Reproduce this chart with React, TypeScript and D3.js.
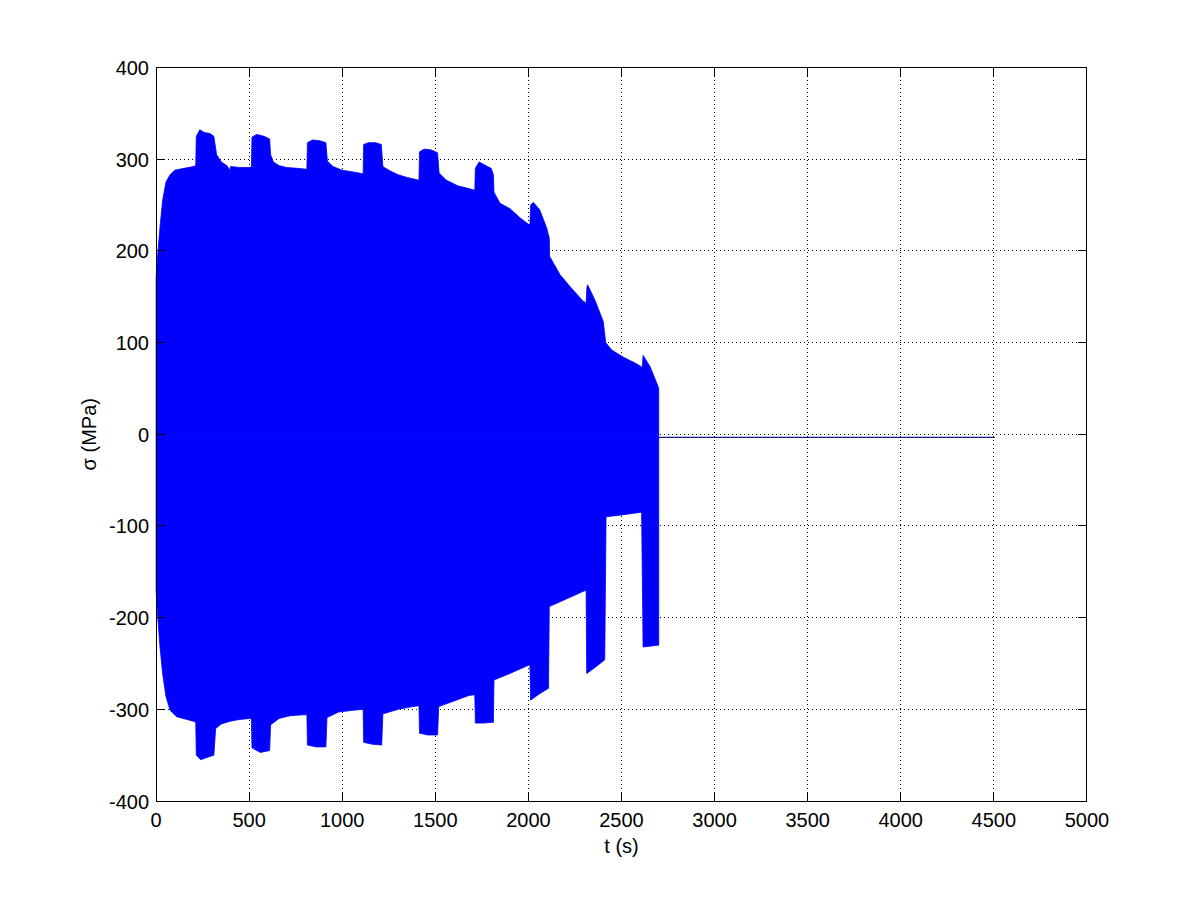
import React from "react";
import * as d3 from "d3";

// Upper envelope of the stress signal (t in s, sigma in MPa)
const upperT = [0, 6, 21, 35, 53, 75, 100, 150, 200, 213, 216, 235, 260, 290, 310, 325, 350, 380, 397, 400, 450, 505, 512, 515, 540, 580, 610, 615, 630, 660, 700, 760, 810, 813, 840, 880, 912, 920, 950, 1000, 1060, 1112, 1115, 1140, 1180, 1210, 1218, 1250, 1300, 1350, 1412, 1415, 1440, 1480, 1512, 1520, 1560, 1620, 1680, 1712, 1715, 1735, 1780, 1800, 1812, 1815, 1847, 1901, 1955, 2000, 2008, 2012, 2026, 2060, 2098, 2112, 2114, 2170, 2224, 2290, 2310, 2314, 2318, 2358, 2402, 2415, 2447, 2510, 2570, 2612, 2616, 2653, 2689, 2700];
const upperV = [170, 190, 226, 255, 275, 283, 288, 290, 292, 293, 325, 332, 329, 328, 325, 305, 297, 293, 288, 292, 291, 291, 292, 324, 327, 325, 322, 305, 297, 293, 291, 290, 289, 318, 321, 320, 318, 298, 292, 288, 286, 284, 316, 318, 318, 316, 292, 288, 283, 280, 277, 308, 311, 310, 307, 285, 277, 271, 268, 266, 290, 297, 292, 290, 283, 264, 252, 246, 236, 229, 229, 250, 253, 245, 225, 214, 194, 174, 161, 146, 143, 160, 163, 146, 123, 100, 92, 84, 78, 73, 86, 74, 56, 50];

// Lower envelope
const lowerT = [0, 6, 21, 35, 53, 75, 110, 200, 213, 216, 240, 280, 310, 320, 350, 397, 450, 505, 512, 515, 560, 610, 615, 660, 720, 790, 810, 813, 860, 912, 918, 980, 1060, 1112, 1115, 1160, 1212, 1218, 1300, 1380, 1412, 1415, 1460, 1512, 1518, 1600, 1680, 1712, 1715, 1760, 1812, 1815, 1900, 2000, 2008, 2012, 2060, 2108, 2112, 2200, 2310, 2313, 2360, 2410, 2417, 2500, 2608, 2616, 2700];
const lowerV = [-170, -192, -232, -261, -286, -301, -308, -313, -314, -350, -355, -352, -350, -321, -316, -313, -311, -310, -311, -342, -347, -345, -317, -310, -307, -306, -306, -339, -341, -341, -309, -303, -301, -300, -336, -338, -339, -305, -300, -297, -296, -326, -328, -328, -297, -291, -285, -284, -315, -315, -314, -268, -261, -252, -252, -290, -283, -277, -188, -180, -170, -261, -254, -246, -90, -88, -85, -232, -230];

// Residual flat line after failure
const tailT = [2700, 4506];
const tailV = [-3.3, -3.3];

const xTicks = [0, 500, 1000, 1500, 2000, 2500, 3000, 3500, 4000, 4500, 5000];
const yTicks = [-400, -300, -200, -100, 0, 100, 200, 300, 400];

export default function App() {
  const W = 1201;
  const H = 900;
  const left = 156.1;
  const right = 156.1 + 930.8;
  const top = 67.5;
  const bottom = 801;
  const x = d3.scaleLinear().domain([0, 5000]).range([left, right]);
  const y = d3.scaleLinear().domain([-400, 400]).range([bottom, top]);

  const up = upperT.map((t, i) => [t, upperV[i]] as [number, number]);
  const lo = lowerT.map((t, i) => [t, lowerV[i]] as [number, number]);
  const tail = tailT.map((t, i) => [t, tailV[i]] as [number, number]);

  const area = d3
    .area<[number, number]>()
    .x((d) => x(d[0]))
    .y0(() => y(0))
    .y1((d) => y(d[1]));
  const line = d3
    .line<[number, number]>()
    .x((d) => x(d[0]))
    .y((d) => y(d[1]));

  const tickLen = 9;
  const font = "'Liberation Sans', Arial, Helvetica, sans-serif";

  return (
    <svg
      width={W}
      height={H}
      style={{ position: "absolute", left: 0, top: 0, background: "#fff" }}
    >
      <rect x={0} y={0} width={W} height={H} fill="#fff" />
      {/* grid */}
      {xTicks.slice(1, -1).map((t) => (
        <line
          key={"gx" + t}
          x1={x(t)}
          x2={x(t)}
          y1={top}
          y2={bottom}
          stroke="#000"
          strokeWidth={1}
          strokeDasharray="1,3"
          shapeRendering="crispEdges"
        />
      ))}
      {yTicks.slice(1, -1).map((v) => (
        <line
          key={"gy" + v}
          x1={left}
          x2={right}
          y1={y(v)}
          y2={y(v)}
          stroke="#000"
          strokeWidth={1}
          strokeDasharray="1,3"
          shapeRendering="crispEdges"
        />
      ))}
      {/* data */}
      <path d={area(up) || ""} fill="#0000ff" stroke="#0000ff" strokeWidth={0.8} />
      <path d={area(lo) || ""} fill="#0000ff" stroke="#0000ff" strokeWidth={0.8} />
      <path d={line(tail) || ""} fill="none" stroke="#1a1a90" strokeWidth={1.2} />
      {/* frame */}
      <rect
        x={left}
        y={top}
        width={right - left}
        height={bottom - top}
        fill="none"
        stroke="#000"
        strokeWidth={1}
        shapeRendering="crispEdges"
      />
      {/* ticks */}
      {xTicks.map((t) => (
        <g key={"tx" + t}>
          <line x1={x(t)} x2={x(t)} y1={bottom} y2={bottom - tickLen} stroke="#000" shapeRendering="crispEdges" />
          <line x1={x(t)} x2={x(t)} y1={top} y2={top + tickLen} stroke="#000" shapeRendering="crispEdges" />
          <text x={x(t)} y={827} textAnchor="middle" fontFamily={font} fontSize={20} fill="#000">
            {t}
          </text>
        </g>
      ))}
      {yTicks.map((v) => (
        <g key={"ty" + v}>
          <line x1={left} x2={left + tickLen} y1={y(v)} y2={y(v)} stroke="#000" shapeRendering="crispEdges" />
          <line x1={right} x2={right - tickLen} y1={y(v)} y2={y(v)} stroke="#000" shapeRendering="crispEdges" />
          <text x={149} y={y(v) + 7.5} textAnchor="end" fontFamily={font} fontSize={20} fill="#000">
            {v}
          </text>
        </g>
      ))}
      {/* axis labels */}
      <text x={(left + right) / 2} y={853} textAnchor="middle" fontFamily={font} fontSize={20} fill="#000">
        t (s)
      </text>
      <text
        transform={`translate(96, ${(top + bottom) / 2}) rotate(-90)`}
        textAnchor="middle"
        fontFamily={font}
        fontSize={20}
        fill="#000"
      >
        σ (MPa)
      </text>
    </svg>
  );
}
